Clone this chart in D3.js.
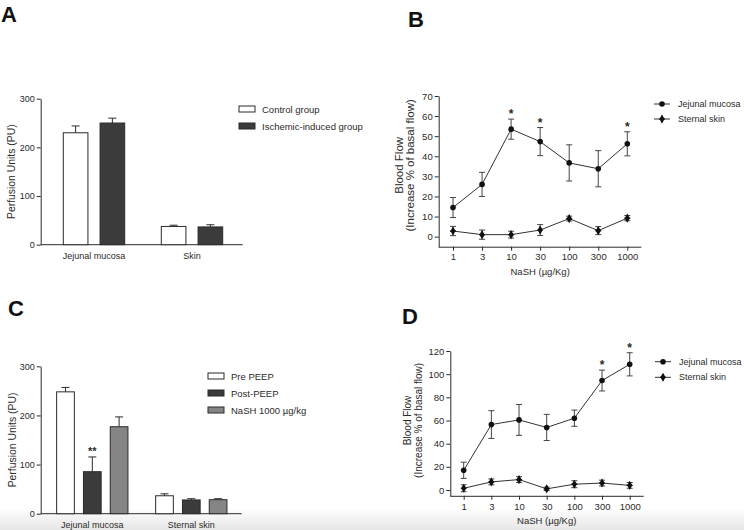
<!DOCTYPE html>
<html><head><meta charset="utf-8">
<script src="https://cdn.jsdelivr.net/npm/d3@7"></script>
<style>body{margin:0;background:#fff}svg{display:block;font-family:"Liberation Sans",Arial,sans-serif}</style>
</head><body><svg id="c" width="744" height="530"></svg>
<script>
// ---------- DATA ----------
const catsA = ["Jejunal mucosa", "Skin"];
const groupsA = ["Control group", "Ischemic-induced group"];
const valsA = [[230, 250], [37.5, 36.5]];     // [category][group]
const errA  = [[14, 10], [2.5, 4.5]];
const yTicksA = [0, 100, 200, 300];

const catsC = ["Jejunal mucosa", "Sternal skin"];
const groupsC = ["Pre PEEP", "Post-PEEP", "NaSH 1000 µg/kg"];
const valsC = [[248, 85.5, 177], [36.5, 28, 28.5]];
const errC  = [[9, 30, 20], [4, 2.5, 2]];
const sigC  = [[null, "**", null], [null, null, null]];
const yTicksC = [0, 100, 200, 300];

const doses = ["1", "3", "10", "30", "100", "300", "1000"];
const seriesNames = ["Jejunal mucosa", "Sternal skin"];
const jejB = [14.5, 26, 53.5, 47.3, 36.7, 33.8, 46.2];
const jejBerr = [5, 6, 5, 7, 9, 9, 6];
const stnB = [2.8, 1, 1, 3.3, 9, 3, 9.2];
const stnBerr = [2.3, 2.3, 1.7, 2.7, 1.2, 2, 1.3];
const sigB = [null, null, "*", "*", null, null, "*"];
const yTicksB = [0, 10, 20, 30, 40, 50, 60, 70];

const jejD = [17, 56.5, 60.5, 54, 62, 94.5, 108.5];
const jejDerr = [7, 12, 13.3, 11.3, 7, 9, 10];
const stnD = [1.5, 7, 9, 1, 5, 6, 4];
const stnDerr = [3, 2.5, 2.5, 1.5, 3, 2.5, 2.5];
const sigD = [null, null, null, null, null, "*", "*"];
const yTicksD = [0, 20, 40, 60, 80, 100, 120];

// ---------- DRAW ----------
const svg = d3.select("#c");
const ink = "#2a2a2a";
const defs = svg.append("defs");
const grad = defs.append("linearGradient").attr("id","bg").attr("x1",0).attr("x2",0).attr("y1",0).attr("y2",1);
grad.append("stop").attr("offset","0%").attr("stop-color","#ffffff");
grad.append("stop").attr("offset","100%").attr("stop-color","#e6e6e6");
svg.append("rect").attr("x",0).attr("y",508).attr("width",744).attr("height",22).attr("fill","url(#bg)");

function panelLetter(t, x, y) {
  svg.append("text").attr("x", x).attr("y", y).text(t)
    .attr("font-size", 22).attr("font-weight", "bold").attr("fill", "#111");
}

function yAxis(g, y, ticks, x0, fs) {
  const ax = d3.axisLeft(y).tickValues(ticks).tickSize(4).tickPadding(2).tickSizeOuter(0);
  const a = g.append("g").attr("transform", `translate(${x0},0)`).call(ax);
  a.selectAll("path,line").attr("stroke", ink);
  a.selectAll("text").attr("font-size", fs).attr("fill", ink).attr("font-family", null);
  return a;
}

function barPanel(o) {
  const g = svg.append("g");
  const y = d3.scaleLinear().domain([0, 300]).range(o.yr);
  const x = d3.scaleBand().domain(o.cats).range(o.xr);
  const xi = d3.scaleBand().domain(o.groups).range([-o.gw / 2, o.gw / 2]).paddingInner(o.pi);
  yAxis(g, y, o.ticks, o.ax, 9);
  g.append("line").attr("x1", o.ax).attr("x2", o.axEnd).attr("y1", y(0)).attr("y2", y(0)).attr("stroke", ink);
  o.cats.forEach((c, ci) => {
    const cx = x(c) + x.bandwidth() / 2;
    g.append("text").attr("x", cx).attr("y", y(0) + 14).attr("text-anchor", "middle")
      .attr("font-size", 9).attr("fill", ink).text(c);
    o.groups.forEach((gr, gi) => {
      const bx = cx + xi(gr), bw = xi.bandwidth();
      const v = o.vals[ci][gi], e = o.err[ci][gi];
      const mid = bx + bw / 2;
      g.append("line").attr("x1", mid).attr("x2", mid).attr("y1", y(v)).attr("y2", y(v + e)).attr("stroke", ink);
      g.append("line").attr("x1", mid - 4).attr("x2", mid + 4).attr("y1", y(v + e)).attr("y2", y(v + e)).attr("stroke", ink);
      g.append("rect").attr("x", bx).attr("y", y(v)).attr("width", bw).attr("height", y(0) - y(v))
        .attr("fill", o.colors[gi]).attr("stroke", ink).attr("stroke-width", 1);
      if (o.sig && o.sig[ci][gi]) {
        g.append("text").attr("x", mid).attr("y", y(v + e) - 2).attr("text-anchor", "middle")
          .attr("font-size", 11).attr("font-weight", "bold").attr("fill", ink).text(o.sig[ci][gi]);
      }
    });
  });
  g.append("text").attr("transform", `translate(${o.ylx},${(o.yr[0] + o.yr[1]) / 2}) rotate(-90)`)
    .attr("text-anchor", "middle").attr("dominant-baseline", "central")
    .attr("font-size", 10.4).attr("fill", ink).text("Perfusion Units (PU)");
  o.groups.forEach((gr, gi) => {
    const ly = o.leg[1] + gi * o.leg[2];
    g.append("rect").attr("x", o.leg[0]).attr("y", ly - 3).attr("width", 16).attr("height", 6)
      .attr("fill", o.colors[gi]).attr("stroke", ink);
    g.append("text").attr("x", o.leg[0] + 23).attr("y", ly).attr("dominant-baseline", "central")
      .attr("font-size", 9.5).attr("fill", ink).text(gr);
  });
}

function marker(g, kind, cx, cy) {
  if (kind === 0) {
    g.append("circle").attr("cx", cx).attr("cy", cy).attr("r", 2.8).attr("fill", "#111");
  } else {
    g.append("path").attr("d", d3.symbol().type(d3.symbolDiamond).size(24)())
      .attr("transform", `translate(${cx},${cy})`).attr("fill", "#111");
    g.append("path").attr("d", `M-3,0H3M0,-3.2V3.2`).attr("transform", `translate(${cx},${cy})`)
      .attr("stroke", "#111").attr("stroke-width", 1.2);
  }
}

function linePanel(o) {
  const g = svg.append("g");
  const y = d3.scaleLinear().domain(o.yd).range(o.yr);
  const x = d3.scalePoint().domain(doses).range(o.xr);
  yAxis(g, y, o.ticks, o.ax, 9.5);
  const xa = d3.axisBottom(x).tickSize(4).tickPadding(3).tickSizeOuter(0);
  const xg = g.append("g").attr("transform", `translate(0,${o.yr[0]})`).call(xa);
  xg.select(".domain").attr("d", `M${o.ax},0.5H${o.axEnd}`).attr("stroke", ink);
  xg.selectAll("line").attr("stroke", ink);
  xg.selectAll("text").attr("font-size", 9.5).attr("fill", ink).attr("font-family", null);
  g.append("text").attr("x", (o.xr[0] + o.xr[1]) / 2).attr("y", o.yr[0] + 28).attr("text-anchor", "middle")
    .attr("font-size", 9.5).attr("fill", ink).text("NaSH (µg/Kg)");
  const series = [[o.jej, o.jerr], [o.stn, o.serr]];
  series.forEach(([vals, errs], si) => {
    const line = d3.line().x((d, i) => x(doses[i])).y(d => y(d));
    g.append("path").attr("d", line(vals)).attr("fill", "none").attr("stroke", "#333").attr("stroke-width", 1);
    vals.forEach((v, i) => {
      const cx = x(doses[i]);
      g.append("line").attr("x1", cx).attr("x2", cx).attr("y1", y(v - errs[i])).attr("y2", y(v + errs[i])).attr("stroke", "#444");
      [v - errs[i], v + errs[i]].forEach(w => g.append("line").attr("x1", cx - 3).attr("x2", cx + 3)
        .attr("y1", y(w)).attr("y2", y(w)).attr("stroke", "#444"));
      marker(g, si, cx, y(v));
      if (si === 0 && o.sig[i]) {
        g.append("text").attr("x", cx).attr("y", y(v + errs[i]) - 1).attr("text-anchor", "middle")
          .attr("font-size", 12).attr("font-weight", "bold").attr("fill", ink).text(o.sig[i]);
      }
    });
  });
  const midY = (o.yr[0] + o.yr[1]) / 2 + o.ylDy;
  g.append("text").attr("transform", `translate(${o.ylx[0]},${midY}) rotate(-90)`)
    .attr("text-anchor", "middle").attr("dominant-baseline", "central")
    .attr("font-size", o.ylfs).attr("fill", ink).text("Blood Flow");
  g.append("text").attr("transform", `translate(${o.ylx[1]},${midY}) rotate(-90)`)
    .attr("text-anchor", "middle").attr("dominant-baseline", "central")
    .attr("font-size", o.ylfs).attr("fill", ink).text("(Increase % of basal flow)");
  seriesNames.forEach((s, si) => {
    const ly = o.leg[1] + si * o.leg[2];
    g.append("line").attr("x1", o.leg[0]).attr("x2", o.leg[0] + 16).attr("y1", ly).attr("y2", ly).attr("stroke", "#333");
    marker(g, si, o.leg[0] + 8, ly);
    g.append("text").attr("x", o.leg[0] + 24).attr("y", ly).attr("dominant-baseline", "central")
      .attr("font-size", 9).attr("fill", ink).text(s);
  });
}

panelLetter("A", 1, 22);
panelLetter("B", 408, 27);
panelLetter("C", 8, 316);
panelLetter("D", 402, 324);

barPanel({cats: catsA, groups: groupsA, vals: valsA, err: errA, ticks: yTicksA,
  yr: [244.7, 98.7], xr: [45, 241], gw: 61.4, pi: 0.33, ax: 40.7, axEnd: 242.7,
  colors: ["#ffffff", "#3b3b3b"], ylx: 11, leg: [239, 109, 17]});

barPanel({cats: catsC, groups: groupsC, vals: valsC, err: errC, sig: sigC, ticks: yTicksC,
  yr: [513.7, 366.3], xr: [42.8, 240.8], gw: 71.3, pi: 0.34, ax: 40.7, axEnd: 241.7,
  colors: ["#ffffff", "#3b3b3b", "#858585"], ylx: 12, leg: [208, 376, 17]});

linePanel({jej: jejB, jerr: jejBerr, stn: stnB, serr: stnBerr, sig: sigB, ticks: yTicksB,
  yd: [-5, 70], yr: [246.7, 96], xr: [453, 627.3], ax: 438.7, axEnd: 641.3,
  ylx: [398.5, 410], ylfs: 11.5, ylDy: -6, leg: [654, 104, 15]});

linePanel({jej: jejD, jerr: jejDerr, stn: stnD, serr: stnDerr, sig: sigD, ticks: yTicksD,
  yd: [-5, 120], yr: [495.8, 351], xr: [463.7, 629.7], ax: 450.3, axEnd: 643.7,
  ylx: [407, 418.5], ylfs: 10, ylDy: -3, leg: [655, 361.7, 15.6]});
</script></body></html>
